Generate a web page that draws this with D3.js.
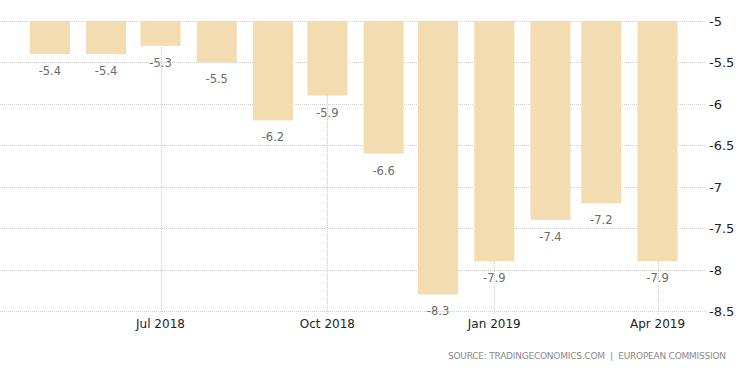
<!DOCTYPE html>
<html>
<head>
<meta charset="utf-8">
<script src="https://cdn.jsdelivr.net/npm/d3@7"></script>
<style>
  body { margin: 0; background: #fff; }
  svg { display: block; font-family: "DejaVu Sans", Verdana, sans-serif; }
</style>
</head>
<body>
<div id="chart"></div>
<script>
// Data
const months = ["2018-05", "2018-06", "2018-07", "2018-08", "2018-09", "2018-10",
  "2018-11", "2018-12", "2019-01", "2019-02", "2019-03", "2019-04"];
const values = [-5.4, -5.4, -5.3, -5.5, -6.2, -5.9, -6.6, -8.3, -7.9, -7.4, -7.2, -7.9];
const yTicks = [-5, -5.5, -6, -6.5, -7, -7.5, -8, -8.5];
const xTicks = ["2018-07", "2018-10", "2019-01", "2019-04"];
const sourceText = "SOURCE: TRADINGECONOMICS.COM  |  EUROPEAN COMMISSION";

const width = 750;
const height = 373;
const parseMonth = d3.timeParse("%Y-%m");

const svg = d3.select("#chart").append("svg")
  .attr("width", width)
  .attr("height", height);

// Scales
const x = d3.scaleTime()
  .domain([parseMonth("2018-07"), parseMonth("2019-04")])
  .range([160.5, 657.5]);
const y = d3.scaleLinear().domain([-5, -8.5]).range([21, 311]);
const barWidth = 40;

// Horizontal grid
svg.append("g")
  .selectAll("line")
  .data(yTicks)
  .enter()
  .append("line")
  .attr("x1", 0)
  .attr("x2", 705)
  .attr("y1", (d) => Math.round(y(d)) + 0.5)
  .attr("y2", (d) => Math.round(y(d)) + 0.5)
  .attr("stroke", "#cfcfcf")
  .attr("stroke-dasharray", "1,1");

// Vertical grid
svg.append("g")
  .selectAll("line")
  .data(xTicks)
  .enter()
  .append("line")
  .attr("x1", (d) => Math.round(x(parseMonth(d))) + 0.5)
  .attr("x2", (d) => Math.round(x(parseMonth(d))) + 0.5)
  .attr("y1", y(-5))
  .attr("y2", y(-8.5) + 3)
  .attr("stroke", "#cfcfcf")
  .attr("stroke-dasharray", "1,1");

// Bars hang from -5
svg.append("g")
  .selectAll("rect")
  .data(values)
  .enter()
  .append("rect")
  .attr("x", (d, i) => x(parseMonth(months[i])) - barWidth / 2)
  .attr("y", y(-5))
  .attr("width", barWidth)
  .attr("height", (d) => y(d) - y(-5))
  .attr("fill", "#f3dcb0");

// Value labels
svg.append("g")
  .selectAll("text")
  .data(values)
  .enter()
  .append("text")
  .attr("x", (d, i) => x(parseMonth(months[i])))
  .attr("y", (d) => y(d) + 21)
  .attr("text-anchor", "middle")
  .attr("font-size", 11.5)
  .attr("fill", "#6b6b6b")
  .text((d) => d);

// Y axis labels
svg.append("g")
  .selectAll("text")
  .data(yTicks)
  .enter()
  .append("text")
  .attr("x", 709)
  .attr("y", (d) => y(d) + 5)
  .attr("font-size", 13)
  .attr("fill", "#222")
  .text((d) => d);

// X axis labels
svg.append("g")
  .selectAll("text")
  .data(xTicks)
  .enter()
  .append("text")
  .attr("x", (d) => x(parseMonth(d)))
  .attr("y", 328)
  .attr("text-anchor", "middle")
  .attr("font-size", 12)
  .attr("fill", "#222")
  .text((d) => d3.timeFormat("%b %Y")(parseMonth(d)));

// Source
svg.append("text")
  .attr("x", 448)
  .attr("y", 359)
  .attr("font-size", 9)
  .attr("fill", "#8a8a8a")
  .attr("textLength", 278)
  .attr("lengthAdjust", "spacing")
  .style("white-space", "pre")
  .text(sourceText);
</script>
</body>
</html>
